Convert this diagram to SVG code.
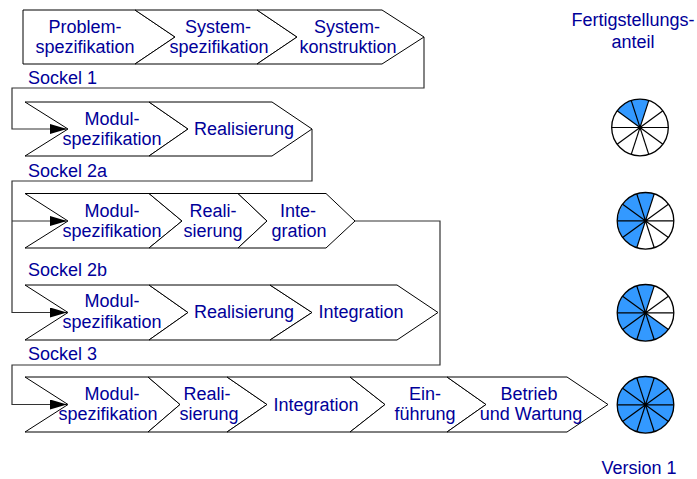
<svg xmlns="http://www.w3.org/2000/svg" width="697" height="479" viewBox="0 0 697 479">
<style>
.ch{fill:#fff;stroke:#000;stroke-width:1}
.t{font-family:"Liberation Sans",Arial,sans-serif;font-size:18px;fill:#000099;text-anchor:middle}
.l{text-anchor:start}
.c{fill:none;stroke:#333;stroke-width:1.2}
.pf{fill:#3399ff}
.po{fill:none;stroke:#000;stroke-width:1.3}
.sp{stroke:#000;stroke-width:1.2}
</style>
<defs>
<marker id="ah" markerUnits="userSpaceOnUse" markerWidth="17" markerHeight="10" refX="17" refY="5" orient="auto">
<path d="M0,0 L17,5 L0,10 z" fill="#000"/>
</marker>
<g id="spokes">
<circle r="28.3" class="po"/>
<line x1="-28.3" y1="0" x2="28.3" y2="0" class="sp"/>
<line x1="-22.89" y1="16.64" x2="22.89" y2="-16.64" class="sp"/>
<line x1="-8.745" y1="26.91" x2="8.745" y2="-26.91" class="sp"/>
<line x1="8.745" y1="26.91" x2="-8.745" y2="-26.91" class="sp"/>
<line x1="22.89" y1="16.64" x2="-22.89" y2="-16.64" class="sp"/>
<circle r="2" fill="#000"/>
</g>
</defs>
<rect width="697" height="479" fill="#fff"/>

<g id="connectors">
<path class="c" d="M424,37 V88 H12 V129 H67" marker-end="url(#ah)"/>
<path class="c" d="M312,129 V181 H12 V312.5 H67" marker-end="url(#ah)"/>
<path class="c" d="M12,221 H67" marker-end="url(#ah)"/>
<path class="c" d="M355,221 H440 V365 H12 V404.5 H67" marker-end="url(#ah)"/>
</g>

<g id="row1">
<g id="problemspezifikation"><polygon class="ch" points="23,10 135,10 175,37 135,64 23,64"/><text class="t" x="85" y="33">Problem-</text><text class="t" x="85" y="53">spezifikation</text></g>
<g id="systemspezifikation"><polygon class="ch" points="135,10 257,10 297,37 257,64 135,64 175,37"/><text class="t" x="218" y="33">System-</text><text class="t" x="219" y="53">spezifikation</text></g>
<g id="systemkonstruktion"><polygon class="ch" points="257,10 382,10 424,37 382,64 257,64 297,37"/><text class="t" x="347" y="33">System-</text><text class="t" x="348" y="53">konstruktion</text></g>
<text class="t l" x="28" y="84">Sockel 1</text>
</g>

<g id="row2">
<g id="s2a-modul"><polygon class="ch" points="25,102 149,102 188,129 149,156 25,156 68,129"/><text class="t" x="112" y="125">Modul-</text><text class="t" x="112" y="145">spezifikation</text></g>
<g id="s2a-real"><polygon class="ch" points="149,102 272,102 312,129 272,156 149,156 188,129"/><text class="t" x="244" y="135">Realisierung</text></g>
<text class="t l" x="28" y="177">Sockel 2a</text>
</g>

<g id="row3">
<g id="s2b-modul"><polygon class="ch" points="25,193.5 149,193.5 182,221 149,248 25,248 68,221"/><text class="t" x="112" y="216.5">Modul-</text><text class="t" x="112" y="237">spezifikation</text></g>
<g id="s2b-real"><polygon class="ch" points="149,193.5 238,193.5 267,221 238,248 149,248 182,221"/><text class="t" x="213" y="216.5">Reali-</text><text class="t" x="213" y="237">sierung</text></g>
<g id="s2b-int"><polygon class="ch" points="238,193.5 326,193.5 355,221 326,248 238,248 267,221"/><text class="t" x="298" y="216.5">Inte-</text><text class="t" x="299" y="237">gration</text></g>
<text class="t l" x="28" y="276">Sockel 2b</text>
</g>

<g id="row4">
<g id="s3-modul"><polygon class="ch" points="25,285 149,285 188,312.5 149,340 25,340 68,312.5"/><text class="t" x="112" y="307">Modul-</text><text class="t" x="112" y="327.5">spezifikation</text></g>
<g id="s3-real"><polygon class="ch" points="149,285 270,285 312,312.5 270,340 149,340 188,312.5"/><text class="t" x="244" y="318">Realisierung</text></g>
<g id="s3-int"><polygon class="ch" points="270,285 397,285 438,312.5 397,340 270,340 312,312.5"/><text class="t" x="361" y="318">Integration</text></g>
<text class="t l" x="28" y="360">Sockel 3</text>
</g>

<g id="row5">
<g id="v1-modul"><polygon class="ch" points="25,377 148,377 180,404.5 148,432 25,432 68,404.5"/><text class="t" x="112" y="400">Modul-</text><text class="t" x="108" y="420">spezifikation</text></g>
<g id="v1-real"><polygon class="ch" points="148,377 227,377 267,404.5 227,432 148,432 180,404.5"/><text class="t" x="207" y="400">Reali-</text><text class="t" x="209" y="420">sierung</text></g>
<g id="v1-int"><polygon class="ch" points="227,377 350,377 385,404.5 350,432 227,432 267,404.5"/><text class="t" x="316" y="410.5">Integration</text></g>
<g id="v1-ein"><polygon class="ch" points="350,377 447,377 486,404.5 447,432 350,432 385,404.5"/><text class="t" x="425" y="400">Ein-</text><text class="t" x="425" y="420">führung</text></g>
<g id="v1-betrieb"><polygon class="ch" points="447,377 567,377 608,404.5 567,432 447,432 486,404.5"/><text class="t" x="529" y="400">Betrieb</text><text class="t" x="531" y="420">und Wartung</text></g>
</g>

<g id="header"><text class="t" x="633" y="26">Fertigstellungs-</text><text class="t" x="633" y="48">anteil</text></g>

<g id="pie1" transform="translate(640,127.5)"><path class="pf" d="M0,0 L8.745,-26.91 A28.3,28.3 0 0 0 -22.89,-16.64 Z"/><use href="#spokes"/></g>
<g id="pie2" transform="translate(645.5,220.8)"><path class="pf" d="M0,0 L8.745,-26.91 A28.3,28.3 0 0 0 -8.745,26.91 Z"/><use href="#spokes"/></g>
<g id="pie3" transform="translate(645.5,312.8)"><path class="pf" d="M0,0 L8.745,-26.91 A28.3,28.3 0 1 0 22.89,16.64 Z"/><use href="#spokes"/></g>
<g id="pie4" transform="translate(645.5,404.8)"><circle class="pf" r="28.3"/><use href="#spokes"/></g>

<g id="version"><text class="t" x="639" y="474">Version 1</text></g>
</svg>
